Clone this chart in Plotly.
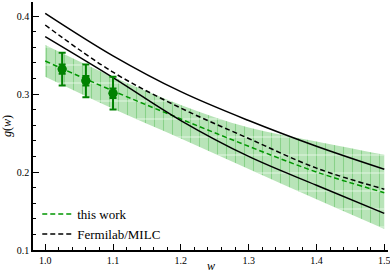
import plotly.graph_objects as go

# ---- data ----
w_grid = [1.0, 1.1, 1.2, 1.3, 1.4, 1.5]

fnal_upper = [0.4035, 0.349, 0.303, 0.266, 0.233, 0.2035]
fnal_central = [0.3885, 0.328, 0.282, 0.243, 0.205, 0.178]
fnal_lower = [0.3735, 0.321, 0.266, 0.220, 0.183, 0.147]

this_central = [0.3423, 0.304, 0.268, 0.233, 0.200, 0.1735]
this_upper = [0.363, 0.322, 0.286, 0.257, 0.239, 0.222]
this_lower = [0.322, 0.281, 0.243, 0.204, 0.165, 0.127]

pts_w = [1.025, 1.06, 1.10]
pts_g = [0.332, 0.317, 0.301]
pts_err_tot = [0.021, 0.021, 0.021]
pts_err_stat = [0.006, 0.006, 0.006]

x_ticks = [1.0, 1.1, 1.2, 1.3, 1.4, 1.5]
y_ticks = [0.1, 0.2, 0.3, 0.4]

GREEN = "rgb(0,150,0)"
DKGREEN = "rgb(0,130,0)"
BAND = "rgb(184,228,184)"
FONT = "Liberation Serif, Times New Roman, serif"

fig = go.Figure()

# band with vertical hatch
fig.add_trace(go.Scatter(x=w_grid, y=this_lower, mode="lines", line=dict(width=0, shape="spline"),
                         showlegend=False, hoverinfo="skip"))
fig.add_trace(go.Scatter(x=w_grid, y=this_upper, mode="lines", line=dict(width=0, shape="spline"),
                         fill="tonexty", fillcolor=BAND,
                         fillpattern=dict(shape="|", fgcolor="rgb(90,190,90)", bgcolor=BAND,
                                          size=9, solidity=0.12),
                         showlegend=False, hoverinfo="skip"))
# horizontal dotted-ish hatch
fig.add_trace(go.Scatter(x=w_grid, y=this_lower, mode="lines", line=dict(width=0, shape="spline"),
                         showlegend=False, hoverinfo="skip"))
fig.add_trace(go.Scatter(x=w_grid, y=this_upper, mode="lines", line=dict(width=0, shape="spline"),
                         fill="tonexty", fillcolor="rgba(0,0,0,0)",
                         fillpattern=dict(shape="-", fgcolor="rgba(245,255,245,0.95)",
                                          bgcolor="rgba(0,0,0,0)", size=18, solidity=0.08),
                         showlegend=False, hoverinfo="skip"))

# this work central
fig.add_trace(go.Scatter(x=w_grid, y=this_central, mode="lines", name="this work",
                         line=dict(color=GREEN, width=1.5, dash="5px,3px", shape="spline")))

# Fermilab/MILC
fig.add_trace(go.Scatter(x=w_grid, y=fnal_upper, mode="lines", showlegend=False,
                         line=dict(color="black", width=1.5, shape="spline")))
fig.add_trace(go.Scatter(x=w_grid, y=fnal_lower, mode="lines", showlegend=False,
                         line=dict(color="black", width=1.5, shape="spline")))
fig.add_trace(go.Scatter(x=w_grid, y=fnal_central, mode="lines", name="Fermilab/MILC",
                         line=dict(color="black", width=1.5, dash="5px,3px", shape="spline")))

# data points
fig.add_trace(go.Scatter(x=pts_w, y=pts_g, mode="markers", showlegend=False,
                         marker=dict(color=DKGREEN, size=9),
                         error_y=dict(type="data", array=pts_err_tot, color=DKGREEN,
                                      thickness=2, width=3.5)))
fig.add_trace(go.Scatter(x=pts_w, y=pts_g, mode="markers", showlegend=False,
                         marker=dict(color=DKGREEN, size=9),
                         error_y=dict(type="data", array=pts_err_stat, color=DKGREEN,
                                      thickness=2, width=3.5)))

xr = [0.982, 1.5055]
yr = [0.1, 0.418]

fig.update_layout(
    width=390, height=272,
    margin=dict(l=33, r=2, t=2, b=22),
    paper_bgcolor="white", plot_bgcolor="white",
    font=dict(family=FONT, size=10, color="black"),
    showlegend=True,
    legend=dict(x=0.012, y=0.205, xanchor="left", yanchor="top",
                bgcolor="rgba(0,0,0,0)", borderwidth=0, traceorder="normal",
                font=dict(family=FONT, size=13), itemwidth=30,
                tracegroupgap=0),
    xaxis=dict(range=xr, tickvals=x_ticks, ticktext=[f"{v:.1f}" for v in x_ticks],
               automargin=False, ticklabeloverflow="allow",
               showgrid=False, zeroline=False, showline=True, linecolor="black", linewidth=1.5,
               ticks="inside", ticklen=6, tickcolor="black", tickwidth=1,
               minor=dict(dtick=0.02, ticks="inside", ticklen=3, tickcolor="black"),
               tickfont=dict(family=FONT, size=10)),
    yaxis=dict(range=yr, tickvals=y_ticks, ticktext=[f"{v:.1f}" for v in y_ticks],
               automargin=False, ticklabeloverflow="allow",
               showgrid=False, zeroline=False, showline=True, linecolor="black", linewidth=1.5,
               ticks="inside", ticklen=6, tickcolor="black", tickwidth=1,
               minor=dict(dtick=0.02, ticks="inside", ticklen=3, tickcolor="black"),
               title=dict(text="<i>g</i>(<i>w</i>)", font=dict(family=FONT, size=12), standoff=4),
               tickfont=dict(family=FONT, size=10)),
    xaxis2=dict(range=xr, overlaying="x", side="top", showticklabels=False, showgrid=False,
                automargin=False,
                zeroline=False, showline=True, linecolor="gray", linewidth=1.5,
                tickvals=x_ticks, ticks="inside", ticklen=6, tickcolor="gray",
                minor=dict(dtick=0.02, ticks="inside", ticklen=3, tickcolor="gray")),
    yaxis2=dict(range=yr, overlaying="y", side="right", showticklabels=False, showgrid=False,
                automargin=False,
                zeroline=False, showline=True, linecolor="gray", linewidth=1.5,
                tickvals=y_ticks, ticks="inside", ticklen=6, tickcolor="gray",
                minor=dict(dtick=0.02, ticks="inside", ticklen=3, tickcolor="gray")),
    annotations=[dict(text="<i>w</i>", xref="paper", yref="paper", x=0.5, y=0,
                      yshift=-16, xanchor="center", yanchor="middle", showarrow=False,
                      font=dict(family=FONT, size=12))],
)

fig.write_html("out.html", config={"displayModeBar": False},
               post_script="document.body.style.margin='0';")
